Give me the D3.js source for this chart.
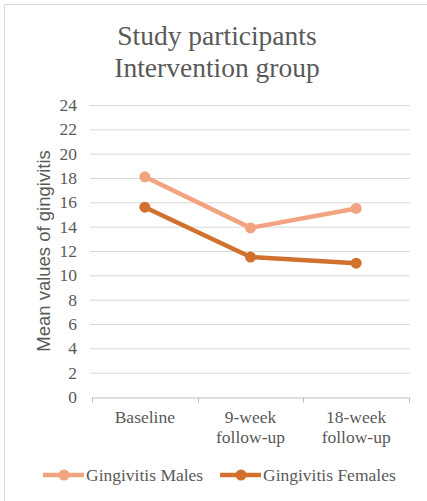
<!DOCTYPE html>
<html>
<head>
<script src="https://cdn.jsdelivr.net/npm/d3@7"></script>
<style>
  body { margin: 0; background: #fff; }
  text { fill: #595959; }
  .serif { font-family: 'Liberation Serif', 'Times New Roman', serif; }
  .sans { font-family: 'Liberation Sans', Arial, sans-serif; }
</style>
</head>
<body>
<div id="chart"></div>
<script>
// data
const categories = [["Baseline"], ["9-week", "follow-up"], ["18-week", "follow-up"]];
const categoryKeys = ["Baseline", "9-week follow-up", "18-week follow-up"];
const seriesNames = ["Gingivitis Males", "Gingivitis Females"];
const malesValues = [18.1, 13.9, 15.5];
const femalesValues = [15.6, 11.5, 11.0];
const yTicks = [0, 2, 4, 6, 8, 10, 12, 14, 16, 18, 20, 22, 24];
const colors = ["#F2A381", "#D2702D"];

const W = 427, H = 501;
const plot = { left: 92, right: 409, top: 105, bottom: 397 };

const svg = d3.select("#chart").append("svg")
  .attr("width", W).attr("height", H);

// chart frame
svg.append("rect")
  .attr("x", 4.5).attr("y", 4.5)
  .attr("width", W + 10).attr("height", H + 10)
  .attr("fill", "#fff").attr("stroke", "#d9d9d9");

// title
const title = svg.append("text")
  .attr("class", "serif")
  .attr("text-anchor", "middle")
  .style("font-size", "27.5px");
title.append("tspan").attr("x", 217).attr("y", 45).text("Study participants");
title.append("tspan").attr("x", 217).attr("y", 77).text("Intervention group");

const x = d3.scaleBand().domain(categoryKeys).range([plot.left, plot.right]);
const y = d3.scaleLinear().domain([0, 24]).range([plot.bottom, plot.top]);

// gridlines
svg.append("g").selectAll("line")
  .data(yTicks.filter(d => d > 0))
  .join("line")
  .attr("x1", 90).attr("x2", plot.right + 1)
  .attr("y1", d => y(d) + 0.5).attr("y2", d => y(d) + 0.5)
  .attr("stroke", "#d9d9d9").attr("stroke-width", 1);

// y tick labels
svg.append("g").selectAll("text")
  .data(yTicks)
  .join("text")
  .attr("class", "serif")
  .attr("x", 77).attr("y", d => y(d))
  .attr("dy", "0.35em")
  .attr("text-anchor", "end")
  .style("font-size", "17.5px")
  .text(d => d);

// y axis title
svg.append("text")
  .attr("class", "sans")
  .attr("transform", "translate(50," + ((plot.top + plot.bottom) / 2) + ") rotate(-90)")
  .attr("text-anchor", "middle")
  .style("font-size", "18.5px")
  .text("Mean values of gingivitis");

// x axis
const xAxis = svg.append("g")
  .attr("transform", "translate(0," + (plot.bottom + 0.5) + ")")
  .call(d3.axisBottom(x).tickSize(0).tickFormat(""));
xAxis.select(".domain").attr("stroke", "#bfbfbf");
const bounds = categoryKeys.map(k => x(k)).concat([x.range()[1]]);
xAxis.selectAll(".sep").data(bounds).join("line")
  .attr("class", "sep")
  .attr("x1", d => Math.round(d) + 0.5).attr("x2", d => Math.round(d) + 0.5)
  .attr("y1", 0).attr("y2", 5)
  .attr("stroke", "#bfbfbf");

// category labels
categories.forEach((lines, i) => {
  const t = svg.append("text")
    .attr("class", "serif")
    .attr("text-anchor", "middle")
    .style("font-size", "17.5px");
  lines.forEach((l, j) => {
    t.append("tspan")
      .attr("x", x(categoryKeys[i]) + x.bandwidth() / 2)
      .attr("y", 423 + j * 20)
      .text(l);
  });
});

// series
const series = [malesValues, femalesValues];
const line = d3.line()
  .x((d, i) => x(categoryKeys[i]) + x.bandwidth() / 2)
  .y(d => y(d));

series.forEach((vals, s) => {
  svg.append("path")
    .datum(vals)
    .attr("fill", "none")
    .attr("stroke", colors[s])
    .attr("stroke-width", 4.5)
    .attr("stroke-linejoin", "round")
    .attr("d", line);
  svg.append("g").selectAll("circle")
    .data(vals)
    .join("circle")
    .attr("cx", (d, i) => x(categoryKeys[i]) + x.bandwidth() / 2)
    .attr("cy", d => y(d))
    .attr("r", 5.5)
    .attr("fill", colors[s]);
});

// legend
const legendItems = [
  { name: seriesNames[0], x0: 43, color: colors[0] },
  { name: seriesNames[1], x0: 220, color: colors[1] }
];
legendItems.forEach(l => {
  svg.append("line")
    .attr("x1", l.x0).attr("x2", l.x0 + 41)
    .attr("y1", 475).attr("y2", 475)
    .attr("stroke", l.color).attr("stroke-width", 4.5);
  svg.append("circle")
    .attr("cx", l.x0 + 21).attr("cy", 475).attr("r", 5.5)
    .attr("fill", l.color);
  svg.append("text")
    .attr("class", "serif")
    .attr("x", l.x0 + 43).attr("y", 481)
    .style("font-size", "17.5px")
    .text(l.name);
});
</script>
</body>
</html>
